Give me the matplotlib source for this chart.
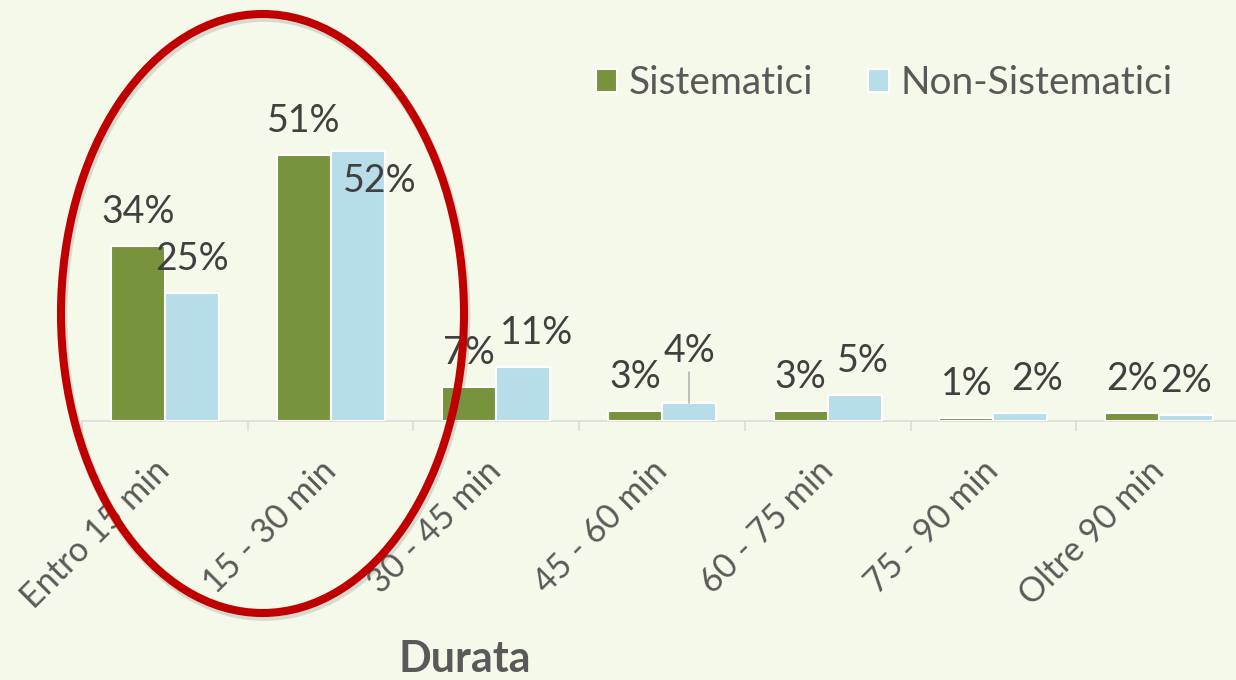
import numpy as np
import matplotlib.pyplot as plt
from matplotlib.patches import Ellipse

# data
categories = ['Entro 15 min', '15 - 30 min', '30 - 45 min', '45 - 60 min',
              '60 - 75 min', '75 - 90 min', 'Oltre 90 min']
sistematici = [33.5, 51.0, 6.6, 2.0, 2.0, 0.5, 1.5]
non_sistematici = [24.5, 51.8, 10.3, 3.4, 5.0, 1.6, 1.2]
sist_labels = ['34%', '51%', '7%', '3%', '3%', '1%', '2%']
non_sist_labels = ['25%', '52%', '11%', '4%', '5%', '2%', '2%']

# label nudges in pixels (dx, dy) relative to the default spot above each bar
sist_nudge = [(0, 0)] * 7
non_sist_nudge = [(0, 0), (22, -64), (13, 0), (0, 18), (8, 0), (17, 0), (0, 0)]

GREEN = '#77933C'
BLUE = '#B7DDE8'
BG = '#F5F9E9'
W, H = 1236, 680

plt.rcParams['font.family'] = ['Lato', 'DejaVu Sans']

fig = plt.figure(figsize=(W / 100, H / 100), dpi=100, facecolor=BG)
ax = fig.add_axes([82 / W, 259 / H, 1160 / W, 421 / H])
ax.set_facecolor(BG)

x = np.arange(len(categories))
w = 0.326
b1 = ax.bar(x - w / 2, sistematici, w, color=GREEN, edgecolor='white', linewidth=1.5, zorder=3)
b2 = ax.bar(x + w / 2, non_sistematici, w, color=BLUE, edgecolor='white', linewidth=1.5, zorder=3)

ax.set_xlim(-0.5, 6.5)
ax.set_ylim(0, 421 / 5.22)

for bars, vals, labels, nudge in [(b1, sistematici, sist_labels, sist_nudge),
                                  (b2, non_sistematici, non_sist_labels, non_sist_nudge)]:
    for rect, v, lbl, (dx, dy) in zip(bars, vals, labels, nudge):
        cx = rect.get_x() + rect.get_width() / 2
        kw = {}
        if dy > 10:
            kw['arrowprops'] = dict(arrowstyle='-', color='#A6A6A6', lw=1, shrinkA=0, shrinkB=0)
        ax.annotate(lbl, xy=(cx, v), xytext=(dx, 34 + dy), textcoords='offset pixels',
                    ha='center', va='center', fontsize=27, color='#404040', zorder=5, **kw)

for s in ['left', 'top', 'right']:
    ax.spines[s].set_visible(False)
ax.spines['bottom'].set_color('#D9D9D9')
ax.spines['bottom'].set_linewidth(1.1)
ax.set_yticks([])

ax.set_xticks(x)
ax.set_xticklabels(categories, rotation=45, ha='right', va='center',
                   rotation_mode='anchor', fontsize=24.5, color='#595959')
ax.set_xticks(np.arange(-0.5, len(categories), 1), minor=True)
ax.tick_params(axis='x', which='major', length=0, pad=32)
ax.tick_params(axis='x', which='minor', length=7, width=1.1, color='#D9D9D9', direction='out')

leg = ax.legend([b1, b2], ['Sistematici', 'Non-Sistematici'], loc='center left',
                bbox_to_anchor=(596 / W, 1 - 83 / H), bbox_transform=fig.transFigure,
                ncol=2, frameon=False, fontsize=28, handlelength=0.54, handleheight=0.54,
                handletextpad=0.3, columnspacing=1.4, borderpad=0, borderaxespad=0)
for t in leg.get_texts():
    t.set_color('#595959')

fig.text(465 / W, 8 / H, 'Durata', ha='center', va='baseline', fontsize=31,
         fontweight='bold', color='#595959')

# red highlight ellipse (pixel geometry converted to inches)
shadow = Ellipse((2.64, 3.635), 4.03, 5.99, fill=False, ec='#808080', lw=7,
                 alpha=0.25, transform=fig.dpi_scale_trans)
ring = Ellipse((2.625, 3.665), 4.03, 5.99, fill=False, ec='#C00000', lw=5.8,
               transform=fig.dpi_scale_trans)
fig.add_artist(shadow)
fig.add_artist(ring)

fig.savefig('out.png', dpi=100, facecolor=BG)
